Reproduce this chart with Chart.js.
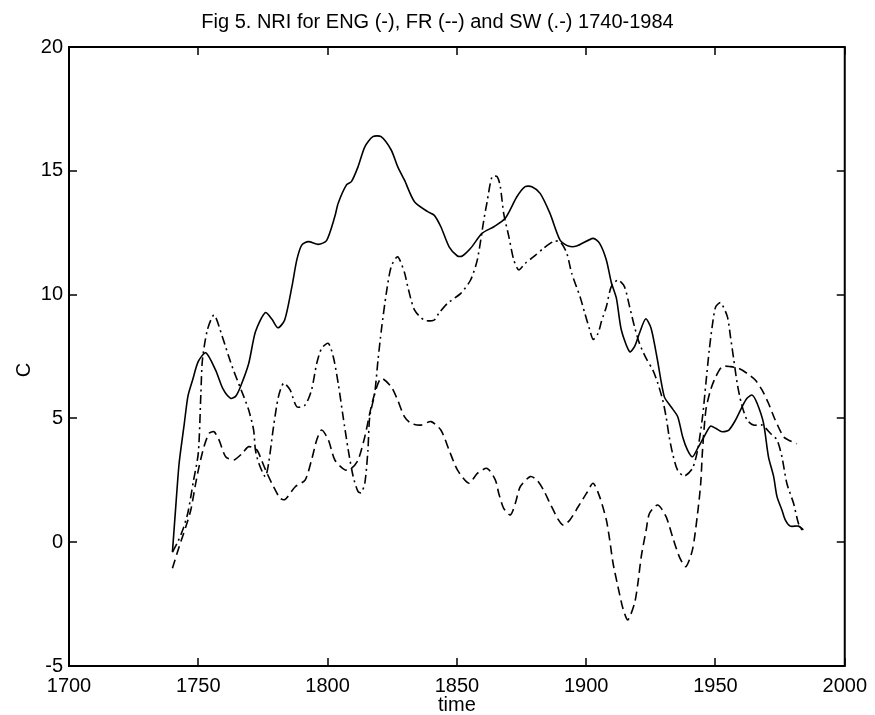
<!DOCTYPE html>
<html>
<head>
<meta charset="utf-8">
<title>Fig 5. NRI</title>
<script src="https://cdn.jsdelivr.net/npm/chart.js@4.4.1/dist/chart.umd.min.js"></script>
<style>
    html, body { margin: 0; padding: 0; background: #fff; }
    #wrap { width: 875px; height: 715px; }
</style>
</head>
<body>
<div id="wrap"><canvas id="nri-chart" width="875" height="715"></canvas></div>
<script>
const TITLE = 'Fig 5. NRI for ENG (-), FR (--) and SW (.-) 1740-1984';
const X_LABEL = 'time';
const Y_LABEL = 'C';

const X_TICKS = [1700, 1750, 1800, 1850, 1900, 1950, 2000];
const Y_TICKS = [-5, 0, 5, 10, 15, 20];

// ENG, solid line
const engYears = [1740, 1741.4, 1742.6, 1744.6, 1746, 1747.8, 1750, 1752.9, 1756.7, 1759.5, 1762.5, 1764.5, 1766.3, 1769.5,
    1772.1, 1775.9, 1778.5, 1780.8, 1783.4, 1786.2, 1788.1, 1790, 1792.6, 1796.4, 1799.6, 1802.8, 1804.1, 1807.3, 1809.2,
    1811.8, 1814.4, 1817.5, 1820.7, 1824.6, 1827.1, 1829.7, 1833.6, 1838.7, 1841.2, 1843.8, 1847, 1850.2, 1852.1, 1855.3,
    1859.8, 1864.3, 1868.7, 1873.2, 1876.4, 1879, 1882.2, 1886, 1889.9, 1893.1, 1896.3, 1902.7, 1905.2, 1907.8, 1909.7,
    1911.7, 1913.6, 1916.8, 1918.7, 1920.6, 1923, 1925.1, 1927.5, 1930.2, 1932.8, 1935.4, 1937.3, 1939.2, 1941.1, 1943.1,
    1945.6, 1948.1, 1950.1, 1952.6, 1955.2, 1957.8, 1960.3, 1962.2, 1964.2, 1966.1, 1968.6, 1970.5, 1972.5, 1973.8, 1975.7,
    1977, 1978.9, 1982.1, 1984];
const engValues = [-0.4, 1.6, 3.2, 4.8, 5.9, 6.55, 7.3, 7.65, 6.95, 6.2, 5.81, 5.9, 6.28, 7.22,
    8.5, 9.27, 9.0, 8.66, 8.97, 10.32, 11.4, 12.0, 12.14, 12.03, 12.18, 13.15, 13.69, 14.43, 14.56,
    15.17, 15.97, 16.38, 16.38, 15.84, 15.17, 14.63, 13.75, 13.35, 13.21, 12.74, 11.93, 11.56, 11.56, 11.87,
    12.48, 12.74, 13.08, 13.95, 14.36, 14.36, 14.09, 13.28, 12.2, 11.96, 11.96, 12.27, 12.07, 11.4, 10.5,
    9.85, 8.57, 7.69, 7.9, 8.44, 9.02, 8.64, 7.4, 5.88, 5.47, 5.07, 4.26, 3.72, 3.45, 3.79,
    4.26, 4.69, 4.6, 4.46, 4.53, 4.94, 5.47, 5.81, 5.94, 5.61, 4.8, 3.45, 2.65, 1.84, 1.3,
    0.9, 0.65, 0.65, 0.5];

// FR, dashed line
const frYears = [1740, 1742.6, 1745.2, 1747.1, 1749, 1750.3, 1752.2, 1754.2, 1756.1, 1758, 1760.6, 1763.8, 1767, 1769.5,
    1772.7, 1774.5, 1776.6, 1779.1, 1781.7, 1783.6, 1787.5, 1791.3, 1793.8, 1795.8, 1797.7, 1800.3, 1802.8, 1806.7,
    1809.2, 1811.8, 1814.4, 1816.3, 1818.2, 1820.7, 1824.6, 1827.1, 1829.7, 1832.3, 1836.1, 1840, 1843.8, 1847, 1850.2,
    1854.7, 1857.9, 1861.7, 1864.9, 1866.2, 1868.1, 1870.7, 1872.6, 1874.5, 1878.4, 1881, 1883.5, 1886, 1889.3, 1891.2,
    1893.7, 1896.9, 1900.1, 1902.7, 1905.2, 1907.8, 1909.1, 1910.4, 1912.3, 1914.2, 1916.1, 1918.7, 1920, 1921.3, 1923.2,
    1924.5, 1927.7, 1930.9, 1933.4, 1936, 1938.5, 1941.1, 1943.1, 1944.3, 1945, 1946.3, 1948.1, 1950.1, 1952.6, 1955.8,
    1959, 1962.2, 1965.4, 1968, 1970.5, 1973.1, 1976.3, 1978.2, 1981.5];
const frValues = [-1.05, -0.18, 0.63, 1.3, 2.38, 3.05, 3.86, 4.4, 4.46, 4.13, 3.45, 3.32, 3.59, 3.86,
    3.72, 3.3, 2.78, 2.24, 1.77, 1.73, 2.24, 2.51, 3.32, 4.13, 4.53, 4.13, 3.32, 2.92,
    2.98, 3.32, 4.26, 5.2, 6.0, 6.62, 6.28, 5.74, 5.07, 4.8, 4.73, 4.87, 4.53, 3.72, 2.92,
    2.38, 2.78, 2.98, 2.51, 1.97, 1.37, 1.1, 1.57, 2.24, 2.65, 2.51, 2.11, 1.57, 0.9, 0.69,
    0.9, 1.43, 1.97, 2.38, 1.84, 0.9, 0.09, -0.85, -1.8, -2.67, -3.14, -2.47, -1.66, -0.58, 0.49,
    1.17, 1.5, 1.03, 0.22, -0.58, -0.99, -0.31, 1.17, 2.38, 3.72, 5.34, 6.15, 6.68, 7.09, 7.09,
    7.02, 6.82, 6.55, 6.15, 5.61, 4.94, 4.26, 4.13, 3.98];

// SW, dash-dot line
const swYears = [1740, 1742, 1744, 1746, 1748, 1750, 1751, 1751.6, 1753.5, 1756.1, 1759.3, 1761.8, 1763.8, 1767.6,
    1769.5, 1771.4, 1772.1, 1773.4, 1775.9, 1777.2, 1779.1, 1781, 1783, 1785.5, 1788.1, 1791.3, 1793.8, 1795.8, 1797.7,
    1800.3, 1802.2, 1804.1, 1806, 1808, 1809.9, 1811.8, 1813, 1814.4, 1815.6, 1816.3, 1818.2, 1819.5, 1820.8, 1822.7,
    1824.6, 1827.1, 1829.7, 1831, 1833.6, 1837.4, 1841.2, 1843, 1846.4, 1851.5, 1855.3, 1857.9, 1860.4, 1861.7, 1863.6,
    1865.6, 1866.8, 1868.1, 1870.1, 1872, 1873.9, 1876.4, 1879.7, 1883.5, 1887.3, 1889.9, 1892.5, 1894.4, 1897.6, 1899.5,
    1901.4, 1902.7, 1904.6, 1905.9, 1907.8, 1909.7, 1912.3, 1914.8, 1916.8, 1918.7, 1920.6, 1923.2, 1925.8, 1927.7, 1929.6,
    1930.9, 1932.1, 1933.4, 1935.3, 1937.9, 1941.1, 1943.1, 1945, 1946.3, 1947.6, 1948.9, 1950.1, 1952, 1954.6, 1955.8,
    1957.1, 1958.4, 1960, 1962.2, 1964.7, 1968, 1971.2, 1973.8, 1975.7, 1977.6, 1980.2, 1982.1, 1984];
const swValues = [-0.4, 0.0, 0.5, 1.2, 2.4, 3.6, 6.0, 7.36, 8.57, 9.18, 8.3, 7.49, 6.89, 5.88,
    5.34, 4.53, 3.72, 3.19, 2.65, 3.19, 4.67, 5.88, 6.42, 6.15, 5.47, 5.54, 6.15, 7.22, 7.83,
    8.03, 7.49, 6.42, 5.07, 3.72, 2.65, 2.04, 2.0, 2.38, 3.72, 5.07, 6.0, 7.36, 8.57, 10.05,
    11.13, 11.53, 10.9, 10.32, 9.38, 8.97, 8.97, 9.24, 9.65, 10.05, 10.59, 11.4, 13.0, 13.75, 14.76,
    14.76, 14.36, 13.28, 12.34, 11.4, 11.0, 11.26, 11.53, 11.87, 12.14, 12.14, 11.67, 10.86, 9.92, 9.24,
    8.57, 8.19, 8.44, 8.91, 9.51, 10.32, 10.59, 10.32, 9.51, 8.7, 8.03, 7.42, 6.95, 6.42, 5.74,
    5.07, 4.26, 3.59, 2.92, 2.67, 2.98, 3.72, 5.07, 6.42, 7.76, 8.84, 9.51, 9.67, 9.11, 8.3,
    7.36, 6.42, 5.61, 4.94, 4.73, 4.73, 4.4, 4.13, 3.45, 2.38, 1.57, 0.76, 0.4];

const FONT = '"Liberation Sans", Arial, Helvetica, sans-serif';
const TICK_LEN = 8;

const toPoints = (years, values) => years.map((yr, i) => ({ x: yr, y: values[i] }));

// box round the plot, inward ticks on all four sides, and the three text labels
const framePlugin = {
    id: 'frame',
    afterDraw(chart) {
        const { ctx, chartArea: a, scales: { x, y } } = chart;
        ctx.save();
        ctx.strokeStyle = '#000';
        ctx.lineWidth = 2;
        ctx.strokeRect(a.left, a.top, a.right - a.left, a.bottom - a.top);

        ctx.lineWidth = 1.5;
        ctx.beginPath();
        X_TICKS.forEach(v => {
            const px = Math.round(x.getPixelForValue(v));
            ctx.moveTo(px, a.bottom); ctx.lineTo(px, a.bottom - TICK_LEN);
            ctx.moveTo(px, a.top); ctx.lineTo(px, a.top + TICK_LEN);
        });
        Y_TICKS.forEach(v => {
            const py = Math.round(y.getPixelForValue(v));
            ctx.moveTo(a.left, py); ctx.lineTo(a.left + TICK_LEN, py);
            ctx.moveTo(a.right, py); ctx.lineTo(a.right - TICK_LEN, py);
        });
        ctx.stroke();

        ctx.fillStyle = '#000';
        ctx.font = '20px ' + FONT;
        ctx.textAlign = 'center';
        ctx.textBaseline = 'alphabetic';
        ctx.fillText(TITLE, chart.width / 2, 28);
        ctx.fillText(X_LABEL, (a.left + a.right) / 2, 711);
        ctx.translate(30, 370);
        ctx.rotate(-Math.PI / 2);
        ctx.fillText(Y_LABEL, 0, 0);
        ctx.restore();
    }
};

const lineStyle = {
    borderColor: '#000000',
    borderWidth: 1.6,
    pointRadius: 0,
    fill: false,
    tension: 0.25
};

new Chart(document.getElementById('nri-chart').getContext('2d'), {
    type: 'line',
    data: {
        datasets: [
            { ...lineStyle, label: 'ENG', data: toPoints(engYears, engValues) },
            { ...lineStyle, label: 'FR', data: toPoints(frYears, frValues), borderDash: [9, 5] },
            { ...lineStyle, label: 'SW', data: toPoints(swYears, swValues), borderDash: [9, 4, 2, 4] }
        ]
    },
    options: {
        responsive: false,
        animation: false,
        events: [],
        layout: { padding: { top: 47, right: 25, bottom: 0, left: 0 } },
        plugins: {
            legend: { display: false },
            title: { display: false },
            tooltip: { enabled: false }
        },
        scales: {
            x: {
                type: 'linear',
                min: 1700,
                max: 2000,
                grid: { display: false, drawTicks: false },
                border: { display: false },
                afterBuildTicks: (s) => { s.ticks = X_TICKS.map(v => ({ value: v })); },
                afterFit: (s) => { s.height = 49; },
                ticks: {
                    padding: 8,
                    color: '#000',
                    font: { family: FONT, size: 20 },
                    maxRotation: 0,
                    autoSkip: false,
                    callback: (v) => String(v)
                }
            },
            y: {
                type: 'linear',
                min: -5,
                max: 20,
                grid: { display: false, drawTicks: false },
                border: { display: false },
                afterBuildTicks: (s) => { s.ticks = Y_TICKS.map(v => ({ value: v })); },
                afterFit: (s) => { s.width = 69; },
                ticks: {
                    padding: 6,
                    color: '#000',
                    font: { family: FONT, size: 20 },
                    autoSkip: false,
                    callback: (v) => String(v)
                }
            }
        }
    },
    plugins: [framePlugin]
});
</script>
</body>
</html>
